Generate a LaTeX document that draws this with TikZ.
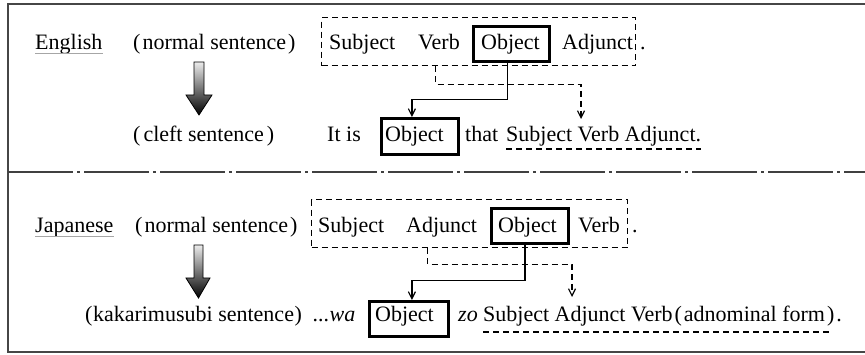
\documentclass[tikz,border=0pt]{standalone}
\usepackage{fontspec}
\setmainfont{Liberation Serif}
\usetikzlibrary{arrows.meta}
\begin{document}
\begin{tikzpicture}[x=1pt,y=-1pt,
  txt/.style={anchor=base west, inner sep=0pt, font=\fontsize{22}{26}\selectfont},
  objbox/.style={draw, line width=2.8pt, anchor=north west, inner sep=0pt},
  groupbox/.style={draw, line width=1.3pt, dash pattern=on 6pt off 4pt, anchor=north west, inner sep=0pt},
  link/.style={line width=1.2pt, -{Straight Barb[length=7pt,width=7pt]}},
  dlink/.style={link, dash pattern=on 6pt off 4pt},
  ul/.style={draw=gray!70, line width=1.6pt},
  dul/.style={line width=1.3pt, dash pattern=on 6pt off 4pt},
  bigarrow/.style={draw=black, line width=0.8pt, top color=gray!15, bottom color=black},
  frame/.style={draw=gray!55!black, line width=1.8pt},
  divider/.style={draw=gray!50!black, line width=1.6pt, dash pattern=on 65pt off 4pt on 3pt off 4pt}
]
\useasboundingbox (0,0) rectangle (865,355);

% outer frame and section divider
\draw[frame] (866,4) -- (8,4) -- (8,352) -- (866,352);
\draw[divider] (8,172) -- (866,172);

% ---------------- English ----------------
\node[txt] (en) at (35,50) {English};
\draw[ul] ([yshift=-3.5pt]en.base west) -- ([yshift=-3.5pt]en.base east);
\node[txt] (enorm) at (133,50) {(\kern2pt normal sentence\kern2pt)};
\node[groupbox, minimum width=314pt, minimum height=48pt] (egroup) at (321,17) {};
\node[txt] (esubj) at (329,50) {Subject};
\node[txt] (everb) at (418,50) {Verb};
\node[objbox, minimum width=76pt, minimum height=35pt] (eobj) at (472,25) {};
\node[txt] (eobjt) at (481,50) {Object};
\node[txt] (eadj) at (562,50) {Adjunct};
\node[txt] (edot) at (640,50) {.};

\draw[bigarrow] (194,62) -- (204,62) -- (204,95) -- (212,95) -- (199,115) -- (186,95) -- (194,95) -- cycle;

\node[txt] (ecleft) at (133,142) {(\kern3pt cleft sentence\kern3pt)};
\node[txt] (itis) at (327,142) {It is};
\node[objbox, minimum width=77pt, minimum height=36pt] (cobj) at (380,117) {};
\node[txt] (cobjt) at (385,142) {Object};
\node[txt] (that) at (465,142) {that};
\node[txt] (crest) at (506,142) {Subject Verb Adjunct.};
\draw[dul] ([yshift=-7pt]crest.base west) -- ([yshift=-7pt]crest.base east);

\coordinate (etgt) at (581,119);
\draw[link] ([xshift=-4pt]eobj.south) -- ++(0,37) -| ([xshift=-8pt]cobj.north);
\draw[dlink] ([xshift=-43pt]egroup.south) -- ++(0,18) -| (etgt);

% ---------------- Japanese ----------------
\node[txt] (ja) at (35,233) {Japanese};
\draw[ul] ([yshift=-3.5pt]ja.base west) -- ([yshift=-3.5pt]ja.base east);
\node[txt] (jnorm) at (135,233) {(\kern2pt normal sentence\kern2pt)};
\node[groupbox, minimum width=316pt, minimum height=48pt] (jgroup) at (311,199) {};
\node[txt] (jsubj) at (318,233) {Subject};
\node[txt] (jadj) at (406,233) {Adjunct};
\node[objbox, minimum width=77pt, minimum height=35pt] (jobj) at (490,207) {};
\node[txt] (jobjt) at (498,233) {Object};
\node[txt] (jverb) at (578,233) {Verb};
\node[txt] (jdot) at (632,233) {.};

\draw[bigarrow] (194,245) -- (203,245) -- (203,278) -- (210,278) -- (198.5,298) -- (186,278) -- (194,278) -- cycle;

\node[txt] (kakari) at (85,322) {(\kern0.5pt kakarimusubi sentence\kern0.5pt)};
\node[txt] (wa) at (313,322) {\textit{...wa}};
\node[objbox, minimum width=79pt, minimum height=35pt] (kobj) at (368,300) {};
\node[txt] (kobjt) at (375,322) {Object};
\node[txt] (zo) at (458,322) {\textit{zo}};
\node[txt] (krest) at (483,322) {Subject Adjunct Verb\kern2pt(\kern2pt adnominal form\kern2pt)\kern2pt.};
\draw[dul] ([yshift=-10pt]krest.base west) -- ([xshift=-10pt,yshift=-10pt]krest.base east);

\coordinate (jtgt) at (572,297);
\draw[link] ([xshift=-5pt]jobj.south) -- ++(0,36) -| ([xshift=3pt]kobj.north);
\draw[dlink] ([xshift=-42pt]jgroup.south) -- ++(0,16) -| (jtgt);
\end{tikzpicture}
\end{document}
